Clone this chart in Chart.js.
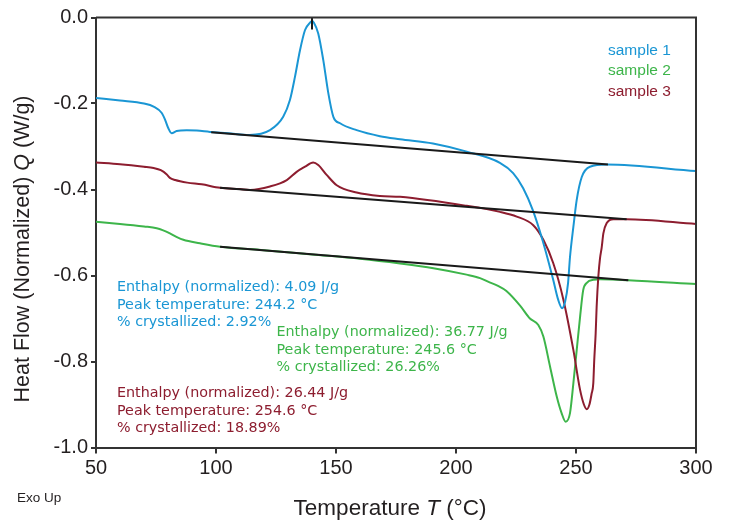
<!DOCTYPE html>
<html lang="en">
<head>
  <meta charset="UTF-8">
  <title>Heat Flow vs Temperature</title>
  <script src="https://cdn.jsdelivr.net/npm/chart.js"></script>
  <style>
    body { margin: 0; background: white; }
    canvas { display: block; }
  </style>
</head>
<body>
  <canvas id="chart" width="732" height="522"></canvas>
  <script>
    // sample 1
    const s1T = [50, 60, 70, 74, 77.4, 78.8, 80.1, 81.5, 83.6, 87.8, 92, 97.5, 105, 114, 122.5, 128, 130.8, 132.9, 135, 137.1, 139.2, 140, 140.8, 142.6, 144.7, 146.8, 148.9, 151.7, 158.6, 168.3, 176.7, 190.4, 204.5, 218.3, 223.8, 228, 232, 236, 240.5, 242.5, 244.2, 245.5, 246.7, 247.5, 248.9, 250.3, 252.4, 255.8, 262.8, 300];
    const s1Q = [-0.187, -0.193, -0.200, -0.207, -0.222, -0.238, -0.257, -0.269, -0.264, -0.262, -0.263, -0.266, -0.269, -0.273, -0.262, -0.231, -0.192, -0.138, -0.076, -0.029, -0.012, -0.008, -0.012, -0.037, -0.099, -0.176, -0.231, -0.246, -0.262, -0.276, -0.283, -0.293, -0.312, -0.338, -0.362, -0.397, -0.448, -0.517, -0.610, -0.655, -0.676, -0.660, -0.617, -0.557, -0.487, -0.424, -0.371, -0.347, -0.342, -0.357];
    // sample 2
    const s2T = [50, 60, 70, 75.3, 78, 80.8, 83.5, 86.4, 93.3, 101.7, 120, 140, 160, 176.7, 190.6, 204.4, 210, 214, 217.5, 221, 226.7, 230.8, 234.3, 236.4, 239.2, 242, 244, 245.7, 247.5, 248.9, 250.3, 251.7, 253, 254.5, 257.2, 260, 271.8, 300];
    const s2Q = [-0.475, -0.480, -0.486, -0.490, -0.495, -0.502, -0.510, -0.517, -0.525, -0.533, -0.541, -0.551, -0.561, -0.572, -0.583, -0.598, -0.606, -0.616, -0.624, -0.636, -0.670, -0.700, -0.715, -0.742, -0.812, -0.882, -0.920, -0.940, -0.920, -0.851, -0.773, -0.696, -0.634, -0.617, -0.610, -0.609, -0.611, -0.620];
    // sample 3
    const s3T = [50, 60, 70, 74, 77, 79.5, 80.8, 83, 88, 94, 101.7, 110, 114.2, 122.5, 129.5, 133.6, 137.1, 140.5, 142.6, 146.1, 150.3, 158.6, 168.3, 176.7, 204.5, 218.3, 225.3, 232.2, 236.4, 240.5, 244.7, 248.9, 251.7, 253.3, 254.5, 255.6, 256.5, 257.2, 257.6, 258.2, 258.6, 259.3, 260, 260.7, 261.4, 262.8, 265.6, 271.1, 300];
    const s3Q = [-0.337, -0.341, -0.347, -0.350, -0.355, -0.365, -0.373, -0.378, -0.384, -0.388, -0.396, -0.399, -0.401, -0.393, -0.378, -0.359, -0.347, -0.337, -0.343, -0.366, -0.390, -0.407, -0.415, -0.417, -0.438, -0.452, -0.463, -0.483, -0.517, -0.571, -0.655, -0.773, -0.866, -0.900, -0.911, -0.900, -0.875, -0.851, -0.797, -0.734, -0.673, -0.603, -0.560, -0.535, -0.502, -0.478, -0.469, -0.469, -0.480];

    // integration baselines (start, end)
    const base1T = [98, 263.3],  base1Q = [-0.267, -0.342];
    const base2T = [101.7, 271.8], base2Q = [-0.533, -0.611];
    const base3T = [101.7, 271.1], base3Q = [-0.396, -0.469];
    const markT = [140, 140], markQ = [0, -0.028];

    const xTicks = [50, 100, 150, 200, 250, 300];
    const yTicks = [-1.0, -0.8, -0.6, -0.4, -0.2, 0.0];

    const names = ['sample 1', 'sample 2', 'sample 3'];
    const notes = [
      ['Enthalpy (normalized): 4.09 J/g', 'Peak temperature: 244.2 °C', '% crystallized: 2.92%'],
      ['Enthalpy (normalized): 36.77 J/g', 'Peak temperature: 245.6 °C', '% crystallized: 26.26%'],
      ['Enthalpy (normalized): 26.44 J/g', 'Peak temperature: 254.6 °C', '% crystallized: 18.89%']
    ];

    const BLUE = '#1a96d4', GREEN = '#3db54a', RED = '#8d1d2f';
    const FONT = '"Liberation Sans", Arial, sans-serif';
    const NOTE_FONT = '"DejaVu Sans", sans-serif';
    const pts = (t, q) => t.map((x, i) => ({x: x, y: q[i]}));

    function curve(label, t, q, color) {
      return {label: label, data: pts(t, q), borderColor: color, borderWidth: 2, pointRadius: 0,
              showLine: true, fill: false, cubicInterpolationMode: 'monotone'};
    }
    function straight(t, q) {
      return {label: '', data: pts(t, q), borderColor: '#1a1a1a', borderWidth: 2, pointRadius: 0,
              showLine: true, fill: false, tension: 0};
    }

    // draw text made of normal / italic pieces, centred on 0
    function mixed(c, parts, size, y) {
      let w = 0;
      parts.forEach(p => { c.font = p[1] + size + 'px ' + FONT; w += c.measureText(p[0]).width; });
      let x = -w / 2;
      parts.forEach(p => { c.font = p[1] + size + 'px ' + FONT; c.fillText(p[0], x, y); x += c.measureText(p[0]).width; });
    }

    // frame, legend, notes and axis titles
    const decor = {
      id: 'decor',
      afterDraw(chart) {
        const c = chart.ctx, a = chart.chartArea;
        c.save();
        c.strokeStyle = '#333';
        c.lineWidth = 2;
        c.beginPath();
        c.moveTo(a.left, a.top); c.lineTo(a.right, a.top); c.lineTo(a.right, a.bottom);
        c.stroke();

        c.textBaseline = 'alphabetic';
        c.textAlign = 'left';
        c.font = '15.5px ' + FONT;
        [BLUE, GREEN, RED].forEach((col, i) => {
          c.fillStyle = col;
          c.fillText(names[i], 608, [54.5, 75.3, 96][i]);
        });

        c.font = '14.3px ' + NOTE_FONT;
        const spots = [[117, 291], [276.5, 336], [117, 397]];
        [BLUE, GREEN, RED].forEach((col, i) => {
          c.fillStyle = col;
          notes[i].forEach((s, j) => c.fillText(s, spots[i][0], spots[i][1] + j * 17.7));
        });

        c.fillStyle = '#231f20';
        c.font = '13.5px ' + FONT;
        c.fillText('Exo Up', 17, 502);

        c.save();
        c.translate(390, 0);
        mixed(c, [['Temperature ', ''], ['T', 'italic '], [' (°C)', '']], 22.5, 515);
        c.restore();

        c.translate(29, 249);
        c.rotate(-Math.PI / 2);
        mixed(c, [['Heat Flow (Normalized) ', ''], ['Q', 'italic '], [' (W/g)', '']], 21.5, 0);
        c.restore();
      }
    };

    new Chart(document.getElementById('chart'), {
      type: 'scatter',
      data: {
        datasets: [
          straight(base1T, base1Q),
          straight(base2T, base2Q),
          straight(base3T, base3Q),
          straight(markT, markQ),
          curve(names[0], s1T, s1Q, BLUE),
          curve(names[2], s3T, s3Q, RED),
          curve(names[1], s2T, s2Q, GREEN)
        ]
      },
      options: {
        responsive: false,
        animation: false,
        layout: {padding: {top: 17.5, right: 36, left: 0, bottom: 0}},
        plugins: {legend: {display: false}, tooltip: {enabled: false}},
        scales: {
          x: {
            type: 'linear', min: 50, max: 300,
            afterBuildTicks: s => { s.ticks = xTicks.map(v => ({value: v})); },
            ticks: {font: {size: 20, family: FONT}, color: '#231f20', padding: 3, maxRotation: 0},
            grid: {drawOnChartArea: false, drawTicks: true, tickLength: 6, color: '#333', lineWidth: 2},
            border: {color: '#333', width: 2},
            afterFit: s => { s.height = 74.5; }
          },
          y: {
            min: -1, max: 0,
            afterBuildTicks: s => { s.ticks = yTicks.map(v => ({value: v})); },
            ticks: {font: {size: 20, family: FONT}, color: '#231f20', padding: 3,
                    callback: v => v.toFixed(1)},
            grid: {drawOnChartArea: false, drawTicks: true, tickLength: 5, color: '#333', lineWidth: 2},
            border: {color: '#333', width: 2},
            afterFit: s => { s.width = 96; }
          }
        }
      },
      plugins: [decor]
    });
  </script>
</body>
</html>
